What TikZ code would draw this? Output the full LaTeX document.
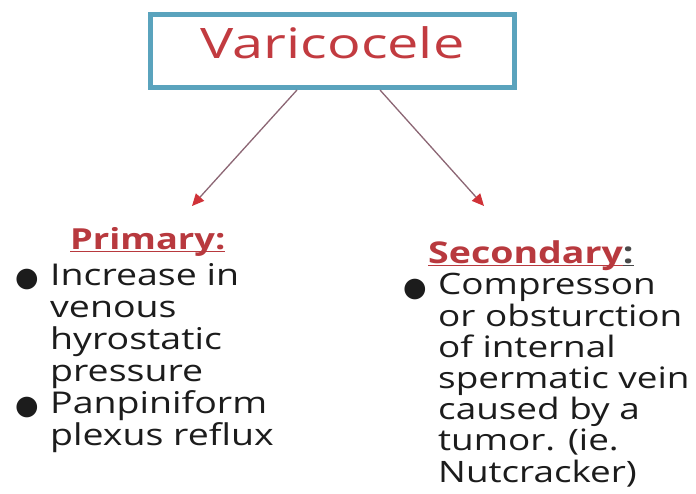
\documentclass[tikz,border=0pt]{standalone}
\usepackage{fontspec}
\setmainfont{Open Sans}[FakeStretch=1.25]
\newfontfamily\titlefont{Open Sans}[FakeStretch=1.33]
\newfontfamily\bulfont{DejaVu Sans}
\usetikzlibrary{arrows.meta}
\definecolor{boxblue}{HTML}{5AA3BD}
\definecolor{titlered}{HTML}{C23B40}
\definecolor{headred}{HTML}{B8393E}
\definecolor{txt}{HTML}{1C1C1C}
\definecolor{arrline}{HTML}{8C6674}
\definecolor{arrhead}{HTML}{D03238}
\newcommand\bulletglyph{\raisebox{-1.5pt}{\bulfont\fontsize{27}{27}\selectfont ●}}
\newcommand\bul{\makebox[35pt][l]{\bulletglyph}}
\newcommand\ind{\hspace*{35pt}}
\tikzset{
  titlebox/.style={draw=boxblue, line width=5pt, fill=white, minimum width=364pt,
    minimum height=73pt, text height=30pt, text depth=15pt, inner sep=0pt,
    font=\titlefont\fontsize{42}{42}\selectfont, text=titlered},
  heading/.style={anchor=base west, inner sep=0pt, font=\bfseries\fontsize{29}{29}\selectfont},
  listtext/.style={anchor=base west, inner sep=0pt, align=left, text=txt},
  arrowline/.style={draw=arrline, line width=1.3pt,
    -{Triangle[length=12pt,width=11pt,color=arrhead]}}
}
\begin{document}
\begin{tikzpicture}[x=1pt,y=-1pt]
\useasboundingbox[fill=white] (0,0) rectangle (696,494);
\node[titlebox] (title) at (332.5,51) {Varicocele};
\coordinate (pa) at (192,206);
\coordinate (sa) at (484,206);
\draw[arrowline] ([xshift=-35.5pt]title.south) -- (pa);
\draw[arrowline] ([xshift=47.5pt]title.south) -- (sa);
\node[heading] (prim) at (70,250) {\textcolor{headred}{\underline{\smash{Primary:}}}};
\node[heading, font=\bfseries\fontsize{30}{30}\selectfont] (sec) at (428,264) {\textcolor{headred}{\underline{\smash{Secondary}}}\textcolor{txt!80}{\underline{\smash{:}}}};
\node[listtext, font=\fontsize{30}{32}\selectfont] (plist) at (15,445) {\bul Increase in\\
\ind venous\\
\ind hyrostatic\\
\ind pressure\\
\bul Panpiniform\\
\ind plexus reflux};
\node[listtext, font=\fontsize{29.5}{31.2}\selectfont] (slist) at (403,482) {\bul Compresson\\
\ind or obsturction\\
\ind of internal\\
\ind spermatic vein\\
\ind caused by a\\
\ind tumor. (ie.\\
\ind Nutcracker)};
\end{tikzpicture}
\end{document}
